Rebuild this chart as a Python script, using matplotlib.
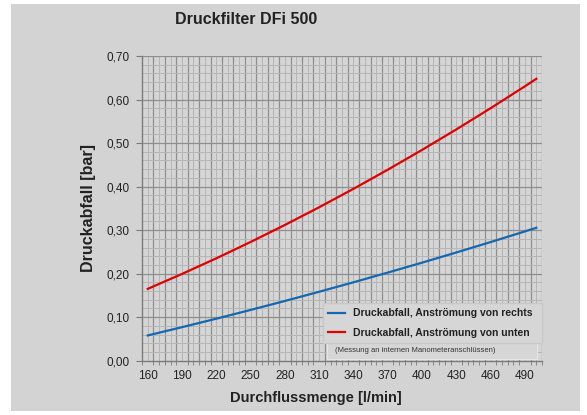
import matplotlib
matplotlib.use("Agg")
import matplotlib.pyplot as plt
from matplotlib.patches import Rectangle
import numpy as np

# flow rate [l/min]
flow = [160, 190, 220, 250, 280, 310, 340, 370, 400, 430, 460, 490, 500]
# pressure drop [bar]
dp_rechts = [0.058, 0.077, 0.0965, 0.1166, 0.1372, 0.1584, 0.1801, 0.2024, 0.2252, 0.2486, 0.2725, 0.2970, 0.3053]
dp_unten = [0.165, 0.1993, 0.2352, 0.2727, 0.3118, 0.3525, 0.3948, 0.4387, 0.4842, 0.5313, 0.5800, 0.6303, 0.6476]

x_ticks = list(range(160, 491, 30))
y_ticks = [0.0, 0.1, 0.2, 0.3, 0.4, 0.5, 0.6, 0.7]
y_labels = ["0,00", "0,10", "0,20", "0,30", "0,40", "0,50", "0,60", "0,70"]

FONT = ["Liberation Sans", "DejaVu Sans"]
plt.rcParams["font.family"] = FONT

W, H = 587, 415
fig = plt.figure(figsize=(W / 100, H / 100), dpi=100, facecolor="white")

# gray panel behind everything
panel = Rectangle((11 / W, 4 / H), 569 / W, 407 / H, transform=fig.transFigure,
                  facecolor="#d3d3d3", edgecolor="none", zorder=-10)
fig.patches.append(panel)

ax = fig.add_axes([142 / W, 1 - 360.7 / H, 400 / W, 304.7 / H])
ax.set_facecolor("#d5d5d5")

x0, x1 = 155, 505
ax.set_xlim(x0, x1)
ax.set_ylim(0, 0.7)

# grid: light every 5 l/min / 0.02 bar, darker every 10 / 0.1
for k, xv in enumerate(np.arange(x0 + 5, x1 + 0.1, 5), start=1):
    dark = k % 2 == 0
    ax.axvline(xv, color="#8e8e8e" if dark else "#b6b6b6", lw=0.9 if dark else 0.7, zorder=1)
for k, yv in enumerate(np.arange(0.02, 0.701, 0.02), start=1):
    dark = k % 5 == 0
    ax.axhline(yv, color="#8e8e8e" if dark else "#b6b6b6", lw=0.9 if dark else 0.7, zorder=1)

ax.plot(flow, dp_rechts, color="#1467b0", lw=1.6, zorder=3, label="Druckabfall, Anströmung von rechts")
ax.plot(flow, dp_unten, color="#e00000", lw=1.6, zorder=3, label="Druckabfall, Anströmung von unten")

for s in ["top", "right"]:
    ax.spines[s].set_visible(False)
for s in ["left", "bottom"]:
    ax.spines[s].set_color("#7a7a7a")
    ax.spines[s].set_linewidth(1.0)

ax.set_xticks(x_ticks)
ax.set_xticks(np.arange(x0, x1 + 0.1, 5), minor=True)
ax.set_yticks(y_ticks)
ax.set_yticklabels(y_labels)
ax.tick_params(axis="both", which="major", length=4, color="#7a7a7a", labelsize=8.5,
               labelcolor="#222222", pad=5)
ax.tick_params(axis="x", which="minor", length=3, color="#7a7a7a")
ax.tick_params(axis="x", which="major", length=0, pad=7)

ax.set_xlabel("Durchflussmenge [l/min]", fontsize=10.5, fontweight="bold", color="#222222", labelpad=8)
ax.xaxis.set_label_coords((316 - 142) / 400, -0.10)
ax.set_ylabel("Druckabfall [bar]", fontsize=11.5, fontweight="bold", color="#222222")
ax.yaxis.set_label_coords(-(142 - 96) / 400, 0.5)
fig.text(246 / W, 1 - 20 / H, "Druckfilter DFi 500", fontsize=11.5, fontweight="bold",
         color="#222222", ha="center", va="center")

leg = ax.legend(loc="lower left", bbox_to_anchor=(0.4525, 0.058, 0.5475, 0.15), mode="expand",
                prop={"family": FONT, "weight": "bold", "size": 7.5}, frameon=True, fancybox=False,
                handlelength=1.6, handletextpad=0.8, borderpad=0.5, labelspacing=0.9, borderaxespad=0)
leg.get_frame().set_facecolor("#d6d6d6")
leg.get_frame().set_edgecolor("#c8c8c8")
leg.get_frame().set_alpha(1)
for t in leg.get_texts():
    t.set_color("#222222")
leg.set_zorder(5)

ax.add_patch(Rectangle((0.4625, 0.004), 0.525, 0.058, transform=ax.transAxes,
                       facecolor="#d6d6d6", edgecolor="#e6e6e6", lw=0.8, zorder=5))
ax.text(0.4825, 0.033, "(Messung an internen Manometeranschlüssen)", transform=ax.transAxes,
        fontsize=5.5, color="#333333", ha="left", va="center", zorder=6)

fig.savefig("out.png", dpi=100, facecolor=fig.get_facecolor())
